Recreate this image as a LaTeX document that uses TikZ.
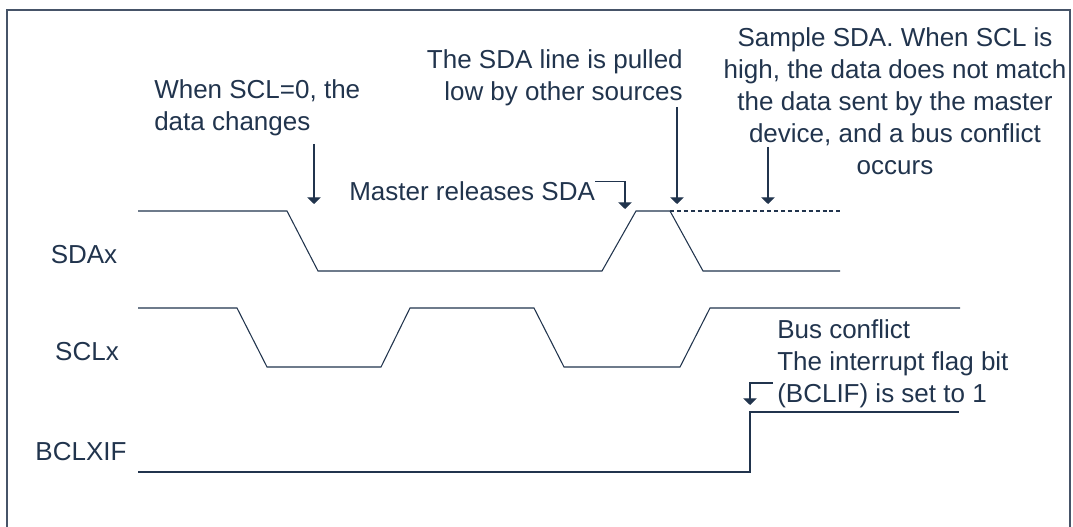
\documentclass[tikz,border=0pt]{standalone}
\usepackage{fontspec}
\setmainfont{Liberation Sans}
\usetikzlibrary{arrows.meta}
\definecolor{navy}{RGB}{33,52,77}
\definecolor{framegray}{RGB}{70,84,104}

\begin{document}
\begin{tikzpicture}[
  x=0.75pt, y=-0.75pt,
  wave/.style={draw=navy, line width=0.8pt},
  lbl/.style={text=navy, inner sep=0pt, font=\fontsize{19.5}{24}\selectfont},
  pointer/.style={draw=navy, line width=0.8pt, -{Triangle[width=10pt,length=5pt]}}
]
  \useasboundingbox (0,0) rectangle (1073,527);
  \draw[framegray, line width=0.8pt] (7,530) -- (7,10) -- (1070,10) -- (1070,530);

  % signal names
  \node[lbl, anchor=base] (sda) at (84,263) {SDAx};
  \node[lbl, anchor=base] (scl) at (87,360) {SCLx};
  \node[lbl, anchor=base] (bcl) at (81,460) {BCLXIF};

  % waveforms
  \draw[wave] (138,211) -- (287,211) -- (318,271) -- (602,271) -- (636,211)
    -- (670,211) -- (703,271) -- (840,271);
  \draw[wave, dash pattern=on 3pt off 2.2pt] (670,211) -- (840,211);
  \draw[wave] (138,308) -- (237,308) -- (267,367) -- (381,367) -- (410,308)
    -- (534,308) -- (564,367) -- (680,367) -- (710,308) -- (960,308);
  \draw[wave] (138,472) -- (750,472) -- (750,412) -- (959,412);

  % notes (base = last line)
  \node[lbl, anchor=base west, align=left] (change) at (154,131)
    {When SCL=0, the\\data changes};
  \node[lbl, anchor=base east, align=right] (pulled) at (683,101)
    {The SDA line is pulled\\low by other sources};
  \node[lbl, anchor=base west] (release) at (349,201) {Master releases SDA};
  \node[lbl, anchor=base, align=center] (sample) at (895,175)
    {Sample SDA. When SCL is\\high, the data does not match\\the data sent by the master\\device, and a bus conflict\\occurs};
  \node[lbl, anchor=base west, align=left] (conflict) at (777,402)
    {Bus conflict\\The interrupt flag bit\\(BCLIF) is set to 1};

  % pointers
  \coordinate (change top) at (314,144);
  \coordinate (change tip) at (314,204);
  \coordinate (release tip) at (625,209);
  \coordinate (pulled top) at (677,107);
  \coordinate (pulled tip) at (677,204);
  \coordinate (sample top) at (768,147);
  \coordinate (sample tip) at (768,204);
  \coordinate (flag start) at (773,383);
  \coordinate (flag tip) at (750,405);

  \draw[pointer] (change top) -- (change tip);
  \draw[pointer] (release.north east) -| (release tip);
  \draw[pointer] (pulled top) -- (pulled tip);
  \draw[pointer] (sample top) -- (sample tip);
  \draw[pointer] (flag start) -| (flag tip);
\end{tikzpicture}
\end{document}
